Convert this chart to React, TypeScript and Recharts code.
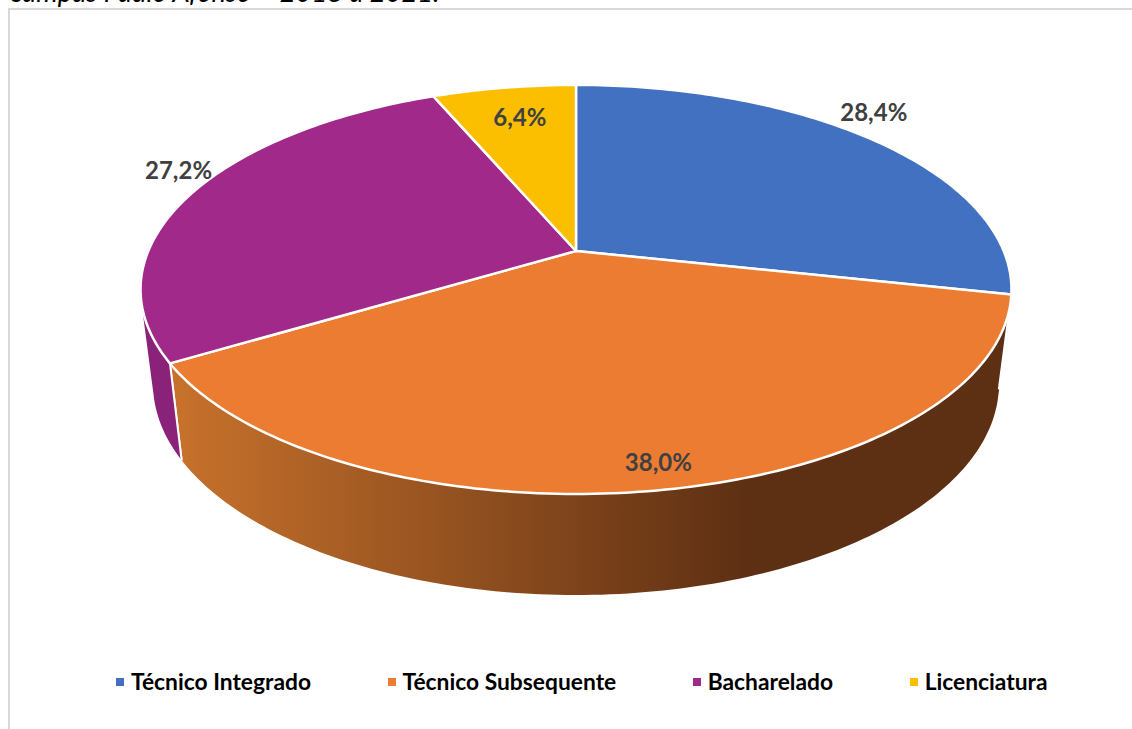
import React from 'react';
import { PieChart, Pie, Legend } from 'recharts';

const categories = ['Técnico Integrado', 'Técnico Subsequente', 'Bacharelado', 'Licenciatura'];
const shares = [28.4, 38.0, 27.2, 6.4];
const topColors = ['#4271c1', '#eb7c31', '#a0298a', '#fbbf00'];
const wallColors = ['#2f5597', 'url(#orangeWall)', '#8b2279', '#bf9000'];

const FONT = 'Lato, Carlito, sans-serif';

const chartData = categories.map((name, i) => ({
  name,
  value: shares[i],
  fill: topColors[i],
  wall: wallColors[i],
}));

// Excel's tilted pie: the unit circle goes through a small perspective so the
// apex sits above the middle of the ellipse
const K = -0.188;
const toPoint = (angle: number, cx: number, cy: number, scaleX: number, scaleY: number, drop = 0) => {
  const t = ((90 - angle) * Math.PI) / 180;
  const u = Math.sin(t);
  const v = -Math.cos(t);
  const w = 1 + K * v;
  return { x: cx + (scaleX * u) / w, y: cy + drop + (scaleY * v) / w };
};
const topPoint = (angle: number, cx: number, cy: number) => toPoint(angle, cx, cy, 427.7, 197.3);
const bottomPoint = (angle: number, cx: number, cy: number) => toPoint(angle, cx, cy, 415.4, 203.5, 93.4);

const anglesBetween = (start: number, end: number) => {
  const steps = Math.max(2, Math.ceil(Math.abs(end - start)));
  return Array.from({ length: steps + 1 }, (_, i) => start + ((end - start) * i) / steps);
};

const TopSlice = (props: any) => {
  const { cx, cy, startAngle, endAngle, fill } = props;
  const rim = anglesBetween(startAngle, endAngle).map((a) => topPoint(a, cx, cy));
  const d = `M${cx},${cy}` + rim.map((p) => `L${p.x.toFixed(2)},${p.y.toFixed(2)}`).join('') + 'Z';
  return <path d={d} fill={fill} stroke="#fff" strokeWidth={2.5} strokeLinejoin="round" />;
};

const WallSlice = (props: any) => {
  const { cx, cy, startAngle, endAngle, wall } = props;
  const angles = anglesBetween(startAngle, endAngle);
  // every quad wound the same way so the nonzero fill covers the silhouette
  let d = '';
  for (let i = 0; i < angles.length - 1; i++) {
    const q = [
      topPoint(angles[i], cx, cy),
      topPoint(angles[i + 1], cx, cy),
      bottomPoint(angles[i + 1], cx, cy),
      bottomPoint(angles[i], cx, cy),
    ];
    let area = 0;
    q.forEach((p, j) => {
      const n = q[(j + 1) % 4];
      area += p.x * n.y - n.x * p.y;
    });
    const pts = area < 0 ? q.reverse() : q;
    d += 'M' + pts.map((p) => `${p.x.toFixed(2)},${p.y.toFixed(2)}`).join('L') + 'Z';
  }
  const edge = (a: number) => {
    const p = topPoint(a, cx, cy);
    const b = bottomPoint(a, cx, cy);
    return `M${p.x.toFixed(2)},${p.y.toFixed(2)}L${b.x.toFixed(2)},${b.y.toFixed(2)}`;
  };
  return (
    <g>
      <path d={d} fill={wall} />
      <path d={edge(startAngle) + edge(endAngle)} stroke="#fff" strokeWidth={2} fill="none" />
    </g>
  );
};

// label shift from the rim point of each slice
const labelShift = [
  [0, -29],
  [-3, -29],
  [-13, -24],
  [16, 29],
];

const renderLabel = (props: any) => {
  const { cx, cy, midAngle, index, value } = props;
  const p = topPoint(midAngle, cx, cy);
  return (
    <text
      x={p.x + labelShift[index][0]}
      y={p.y + labelShift[index][1]}
      textAnchor="middle"
      dominantBaseline="central"
      fontFamily={FONT}
      fontWeight={700}
      fontSize={24}
      fill="#404040"
    >
      {value.toFixed(1).replace('.', ',')}%
    </text>
  );
};

const renderLegend = (props: any) => {
  const items = props.payload.filter((item: any) => item.type !== 'none');
  return (
    <div
      style={{
        display: 'flex',
        fontFamily: FONT,
        fontWeight: 700,
        fontSize: 22.8,
        color: '#000',
        lineHeight: '28px',
        whiteSpace: 'nowrap',
      }}
    >
      {items.map((item: any, i: number) => (
        <div key={item.value} style={{ display: 'flex', alignItems: 'center', marginRight: i < items.length - 1 ? 76.5 : 0 }}>
          <span style={{ width: 8, height: 8, background: topColors[i], marginRight: 7, marginTop: 1 }} />
          {item.value}
        </div>
      ))}
    </div>
  );
};

export default function App() {
  return (
    <div style={{ position: 'absolute', left: 0, top: 0, width: 1132, height: 729, overflow: 'hidden', background: '#fff' }}>
      <div
        style={{
          position: 'absolute',
          left: 10,
          top: -23,
          fontFamily: FONT,
          fontStyle: 'italic',
          fontSize: 27.3,
          lineHeight: '30px',
          whiteSpace: 'nowrap',
          color: '#000',
        }}
      >
        campus Paulo Afonso – 2018 a 2021.
      </div>
      <div
        style={{
          position: 'absolute',
          left: 8,
          top: 8,
          width: 1140,
          height: 740,
          borderLeft: '2px solid #d9d9d9',
          borderTop: '2px solid #d9d9d9',
        }}
      />
      <div style={{ position: 'absolute', left: 0, top: 0 }}>
        <PieChart width={1132} height={729} margin={{ top: 0, right: 0, bottom: 0, left: 0 }}>
          <defs>
            <linearGradient id="orangeWall" gradientUnits="userSpaceOnUse" x1="170" y1="0" x2="750" y2="0">
              <stop offset="0" stopColor="#c8722c" />
              <stop offset="1" stopColor="#5d2f13" />
            </linearGradient>
          </defs>
          <Pie
            data={chartData}
            dataKey="value"
            nameKey="name"
            cx={576}
            cy={251}
            outerRadius={200}
            startAngle={90}
            endAngle={-270}
            legendType="none"
            shape={WallSlice}
            isAnimationActive={false}
          />
          <Pie
            data={chartData}
            dataKey="value"
            nameKey="name"
            cx={576}
            cy={251}
            outerRadius={200}
            startAngle={90}
            endAngle={-270}
            shape={TopSlice}
            label={renderLabel}
            labelLine={false}
            isAnimationActive={false}
          />
          <Legend
            content={renderLegend}
            itemSorter={null}
            wrapperStyle={{ left: 116, top: 667, width: 'auto', bottom: 'auto' }}
          />
        </PieChart>
      </div>
    </div>
  );
}
